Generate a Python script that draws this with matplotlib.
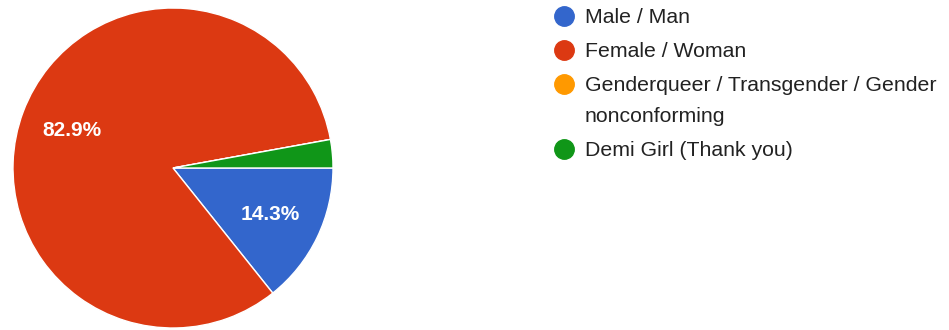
import matplotlib
matplotlib.use("Agg")
from matplotlib import pyplot as plt

W, H = 949, 330
DPI = 100

labels = ["Male / Man", "Female / Woman",
          "Genderqueer / Transgender / Gender\nnonconforming",
          "Demi Girl (Thank you)"]
counts = [5, 29, 0, 1]
colors = ["#3366cc", "#dc3912", "#ff9900", "#109618"]

plt.rcParams["font.family"] = ["Liberation Sans", "DejaVu Sans"]


def px(x, y):
    # pixel position (top-left origin) -> figure fraction
    return x / W, 1 - y / H


def pct_label(p):
    return f"{p:.1f}%" if p >= 5 else ""


fig = plt.figure(figsize=(W / DPI, H / DPI), dpi=DPI)

# pie occupies a 320 px square at the left
left, top = px(13, 8)
ax = fig.add_axes([left, top - 320 / H, 320 / W, 320 / H])
ax.pie(counts, colors=colors, startangle=0, counterclock=False,
       autopct=pct_label, pctdistance=0.675,
       wedgeprops=dict(edgecolor="white", linewidth=1),
       textprops=dict(color="white", fontsize=15, fontweight="bold"))
ax.set_aspect("equal")
ax.set_xlim(-1, 1)
ax.set_ylim(-1, 1)
ax.axis("off")

# legend drawn by hand so wrapped labels line up with the first line
y = 16
line_step = 31
for label, color in zip(labels, colors):
    mx, my = px(564, y)
    fig.lines.append(plt.Line2D([mx], [my], marker="o", markersize=14,
                                color=color, transform=fig.transFigure))
    for i, line in enumerate(label.split("\n")):
        tx, ty = px(585, y + i * line_step + 7)
        fig.text(tx, ty, line, fontsize=15.3, color="#222222", va="baseline")
    y += line_step * len(label.split("\n")) + 3

fig.savefig("out.png", dpi=DPI)
